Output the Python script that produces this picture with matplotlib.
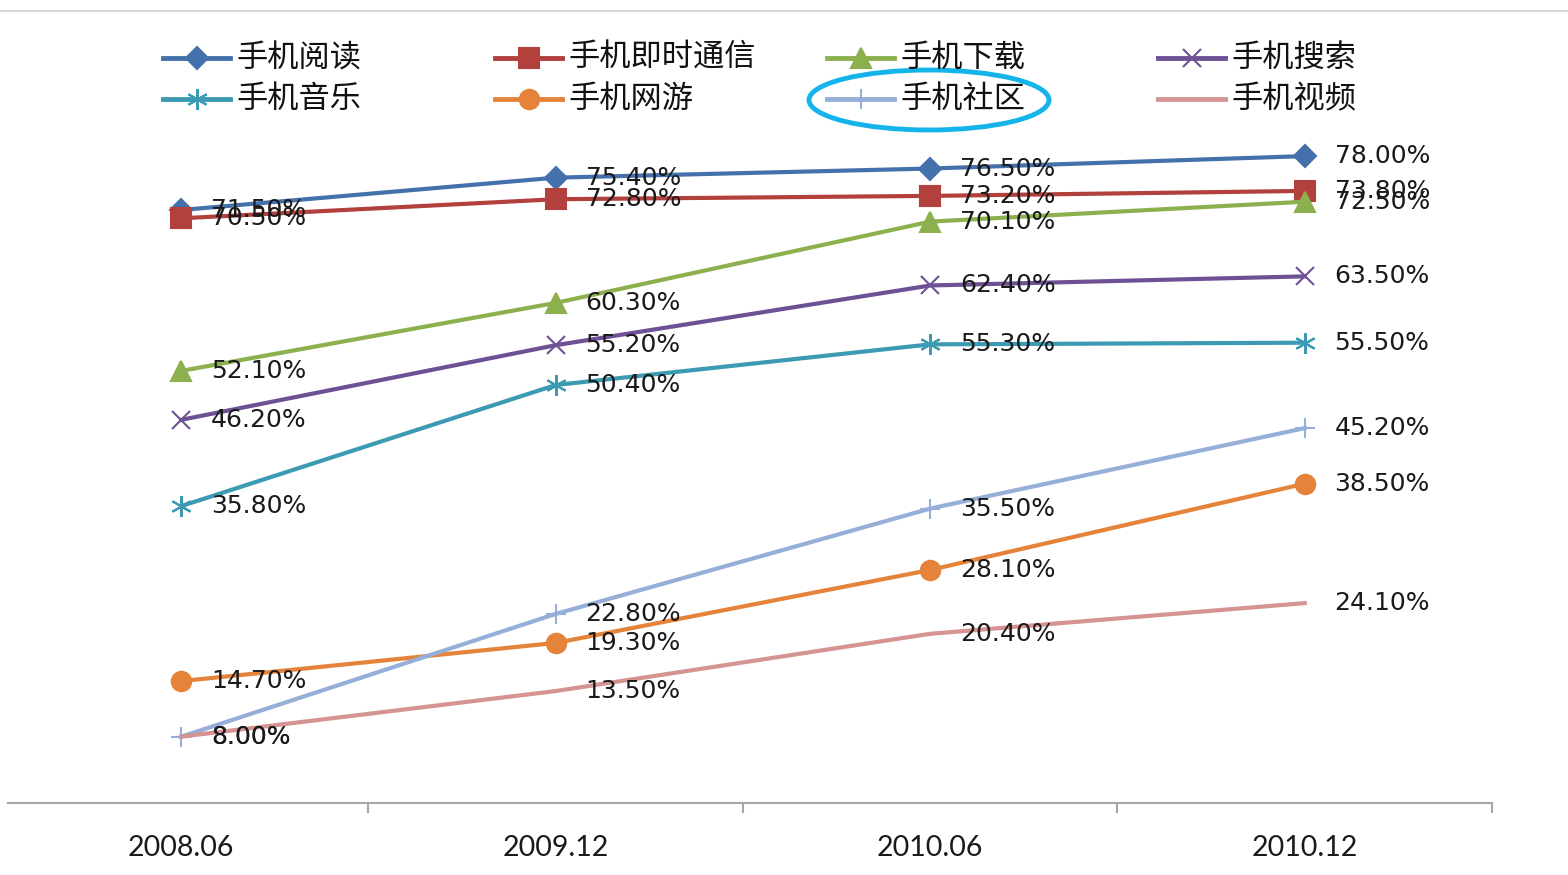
import matplotlib
matplotlib.use("Agg")
import matplotlib.pyplot as plt
from matplotlib.lines import Line2D
from matplotlib.patches import Ellipse

plt.rcParams['font.family'] = ['Noto Sans CJK SC', 'DejaVu Sans']

periods = ["2008.06", "2009.12", "2010.06", "2010.12"]
names = ["手机阅读", "手机即时通信", "手机下载", "手机搜索",
         "手机音乐", "手机网游", "手机社区", "手机视频"]
reading = [71.5, 75.4, 76.5, 78.0]
im = [70.5, 72.8, 73.2, 73.8]
download = [52.1, 60.3, 70.1, 72.5]
search = [46.2, 55.2, 62.4, 63.5]
music = [35.8, 50.4, 55.3, 55.5]
games = [14.7, 19.3, 28.1, 38.5]
community = [8.0, 22.8, 35.5, 45.2]
video = [8.0, 13.5, 20.4, 24.1]
series = [reading, im, download, search, music, games, community, video]

colors = ["#4470AB", "#B2403D", "#8DB04F", "#6E5195",
          "#3D9AB3", "#E6833A", "#96AFD8", "#D59391"]
markers = ["D", "s", "^", "x", (6, 2, 0), "o", "+", None]
msizes = [11, 14, 14, 13, 15, 14, 14, 0]

W, H = 1568, 875
fig = plt.figure(figsize=(W / 100, H / 100), dpi=100)
ax = fig.add_axes([8 / W, 1 - 803 / H, 1484 / W, 663.5 / H])

xs = list(range(len(periods)))
for vals, c, m, ms in zip(series, colors, markers, msizes):
    ax.plot(xs, vals, color=c, lw=3, marker=m, markersize=ms,
            markeredgewidth=1.5, clip_on=False, zorder=3)
    for x, v in zip(xs, vals):
        ax.annotate(f"{v:.2f}%", (x, v), xytext=(21.5, 0), textcoords="offset points",
                    va="center", ha="left", fontsize=18, color="#1a1a1a",
                    family="DejaVu Sans", zorder=4)

ax.set_xlim(-0.4626, 3.5)
ax.set_ylim(0, 80)
for s in ["top", "right", "left"]:
    ax.spines[s].set_visible(False)
ax.spines["bottom"].set_color("#A6A6A6")
ax.spines["bottom"].set_linewidth(1.5)
ax.set_yticks([])
ax.set_xticks(xs)
ax.set_xticklabels(periods, fontsize=20.5, family="Lato", color="#1a1a1a")
ax.set_xticks([0.5, 1.5, 2.5, 3.5], minor=True)
ax.tick_params(axis="x", which="major", length=0, pad=23)
ax.tick_params(axis="x", which="minor", length=7, color="#A6A6A6", width=1.5)

# legend drawn by hand so the four columns are evenly spaced
col_x = [163, 495, 827, 1158]
row_y = [58, 99]
for i, (name, c, m, ms) in enumerate(zip(names, colors, markers, msizes)):
    x0 = col_x[i % 4]
    y0 = row_y[i // 4]
    fy = 1 - y0 / H
    fig.add_artist(Line2D([x0 / W, (x0 + 67) / W], [fy, fy], color=c, lw=3.5,
                          transform=fig.transFigure))
    if m is not None:
        fig.add_artist(Line2D([(x0 + 34) / W], [fy], color=c, marker=m, markersize=ms,
                              markeredgewidth=1.5, transform=fig.transFigure))
    fig.text((x0 + 73) / W, fy, name, fontsize=22.5, va="center", ha="left", color="#111111")

fig.add_artist(Ellipse((929 / W, 1 - 100 / H), 240 / W, 60 / H, fill=False,
                       edgecolor="#14B4EA", lw=3.5, transform=fig.transFigure))
fig.add_artist(Line2D([0, 1], [1 - 11 / H, 1 - 11 / H], color="#CFCFCF", lw=1.2,
                      transform=fig.transFigure))

fig.savefig("out.png", dpi=100)
